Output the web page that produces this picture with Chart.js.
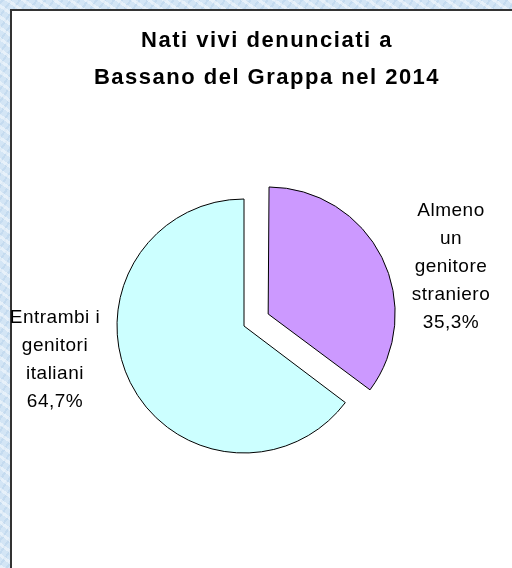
<!DOCTYPE html>
<html>
<head>
  <title>Nati vivi Bassano del Grappa 2014</title>
  <style>
    html, body {
      margin: 0;
      padding: 0;
      width: 512px;
      height: 568px;
      overflow: hidden;
    }

    body {
      background-color: #d3e5f5;
      background-image:
        repeating-linear-gradient(35deg, rgba(255,255,255,0.45) 0 3px, rgba(255,255,255,0) 3px 9px),
        repeating-linear-gradient(-55deg, rgba(170,200,230,0.35) 0 2px, rgba(255,255,255,0) 2px 7px);
    }

    .panel {
      position: absolute;
      left: 10px;
      top: 9px;
      width: 520px;
      height: 580px;
      background: #fff;
      border: 2px solid #333;
    }

    #chart {
      position: absolute;
      left: 0;
      top: 0;
    }
  </style>
</head>
<body>
  <div class="panel"></div>
  <canvas id="chart" width="512" height="568"></canvas>
  <script src="https://cdn.jsdelivr.net/npm/chart.js"></script>
  <script>
    const titleLines = ['Nati vivi denunciati a', 'Bassano del Grappa nel 2014'];
    const categories = ['Almeno un genitore straniero', 'Entrambi i genitori italiani'];
    const labelLines = [['Almeno', 'un', 'genitore', 'straniero'], ['Entrambi i', 'genitori', 'italiani']];
    const percentages = [35.3, 64.7];
    const sliceColors = ['#CC99FF', '#CCFFFF'];

    // title drawn by hand so it can have the wide letter spacing of the original
    const titlePlugin = {
      id: 'wideTitle',
      afterDraw(chart) {
        const ctx = chart.ctx;
        ctx.save();
        ctx.font = 'bold 22px "Liberation Sans", Arial, sans-serif';
        ctx.letterSpacing = '1.5px';
        ctx.fillStyle = '#000';
        ctx.textAlign = 'center';
        ctx.textBaseline = 'middle';
        titleLines.forEach((line, i) => {
          ctx.fillText(line, 267, 41 + i * 36.5);
        });
        ctx.restore();
      }
    };

    // Chart.js grows an offset slice's radius a little; undo that so both slices match
    const keepRadius = {
      id: 'keepRadius',
      afterDatasetsUpdate(chart) {
        chart.getDatasetMeta(0).data.forEach((arc) => {
          const off = (arc.options.offset || 0) / 4;
          const fix = 1 - Math.sin(Math.min(Math.PI, arc.circumference));
          arc.outerRadius -= off * fix;
        });
      }
    };

    // where each slice label sits (middle line baseline), relative to the pie centre
    const labelOffsets = [[207, -54], [-189, 39]];

    const sliceLabels = {
      id: 'sliceLabels',
      afterDatasetsDraw(chart) {
        const ctx = chart.ctx;
        const meta = chart.getDatasetMeta(0);
        ctx.save();
        ctx.font = '19px "Liberation Sans", Arial, sans-serif';
        ctx.letterSpacing = '0.5px';
        ctx.fillStyle = '#000';
        ctx.textAlign = 'center';
        ctx.textBaseline = 'alphabetic';
        meta.data.forEach((arc, i) => {
          const lines = labelLines[i].concat(percentages[i].toFixed(1).replace('.', ',') + '%');
          const lh = 28.2;
          const cx = arc.x + labelOffsets[i][0];
          const top = arc.y + labelOffsets[i][1] - (lines.length - 1) * lh / 2;
          lines.forEach((line, j) => {
            ctx.fillText(line, cx, top + j * lh);
          });
        });
        ctx.restore();
      }
    };

    new Chart(document.getElementById('chart'), {
      type: 'pie',
      data: {
        labels: categories,
        datasets: [{
          data: percentages,
          backgroundColor: sliceColors,
          borderColor: '#000',
          borderWidth: 1,
          offset: [108, 0],
          radius: 127
        }]
      },
      options: {
        responsive: false,
        animation: false,
        devicePixelRatio: 1,
        layout: {
          padding: { top: 94, bottom: 10, left: 0, right: 24 }
        },
        plugins: {
          legend: { display: false },
          tooltip: { enabled: false }
        }
      },
      plugins: [keepRadius, titlePlugin, sliceLabels]
    });
  </script>
</body>
</html>
